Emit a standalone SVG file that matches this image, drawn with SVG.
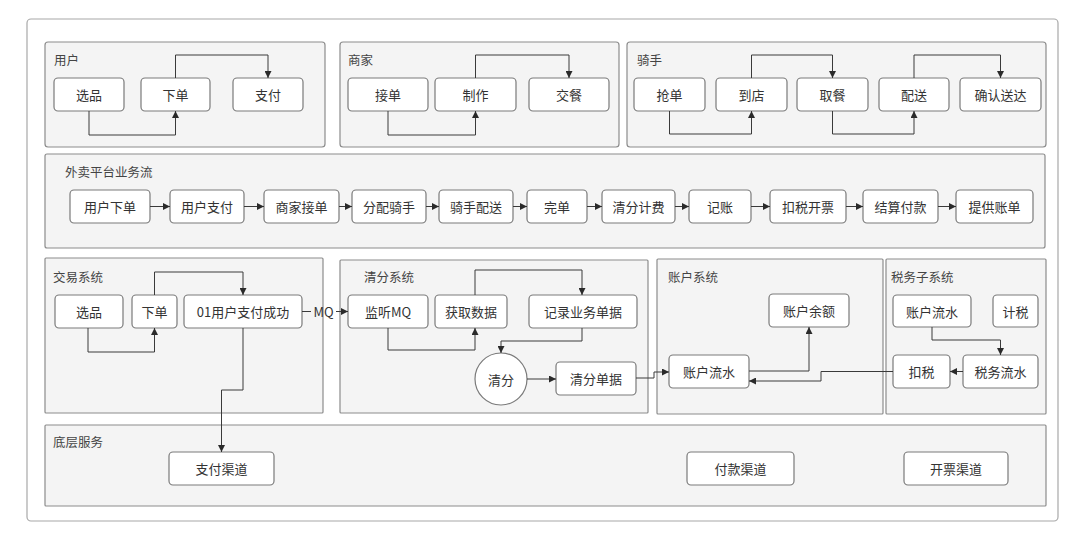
<svg xmlns="http://www.w3.org/2000/svg" width="1080" height="542" viewBox="0 0 1080 542">
<style>
.frame{fill:#fff;stroke:#a8a8a8;stroke-width:1.2}
.grp{fill:#f4f4f4;stroke:#8c8c8c;stroke-width:1.2}
.node{fill:#fff;stroke:#7a7a7a;stroke-width:1.2}
.t{font-family:"Noto Sans CJK SC","Noto Sans",sans-serif;font-size:13px;fill:#333;text-anchor:middle;dominant-baseline:central}
.lbl{font-family:"Noto Sans CJK SC","Noto Sans",sans-serif;font-size:12.5px;fill:#444;text-anchor:start;dominant-baseline:central}
.c{fill:none;stroke:#3a3a3a;stroke-width:1;marker-end:url(#arr)}
.cn{fill:none;stroke:#3a3a3a;stroke-width:1}
</style>
<defs>
<marker id="arr" viewBox="0 0 10 10" refX="10" refY="5" markerWidth="8" markerHeight="7" markerUnits="userSpaceOnUse" orient="auto">
<path d="M0,0 L10,5 L0,10 z" fill="#2a2a2a"/>
</marker>
</defs>
<rect class="frame" x="27" y="19" width="1031" height="502" rx="4"/>

<g id="g-user">
<rect class="grp" x="45" y="42" width="280" height="105" rx="3"/>
<text class="lbl" x="54" y="59">用户</text>
<g id="u-xuanpin"><rect class="node" x="54" y="78" width="70" height="33" rx="4"/><text class="t" x="89" y="94.5">选品</text></g>
<g id="u-xiadan"><rect class="node" x="141" y="78" width="69" height="33" rx="4"/><text class="t" x="175.5" y="94.5">下单</text></g>
<g id="u-zhifu"><rect class="node" x="233" y="78" width="70" height="33" rx="4"/><text class="t" x="268" y="94.5">支付</text></g>
</g>

<g id="g-merchant">
<rect class="grp" x="340" y="42" width="279" height="105" rx="3"/>
<text class="lbl" x="348" y="59">商家</text>
<g id="m-jiedan"><rect class="node" x="348" y="78" width="80" height="33" rx="4"/><text class="t" x="388" y="94.5">接单</text></g>
<g id="m-zhizuo"><rect class="node" x="435" y="78" width="81" height="33" rx="4"/><text class="t" x="475.5" y="94.5">制作</text></g>
<g id="m-jiaocan"><rect class="node" x="529" y="78" width="80" height="33" rx="4"/><text class="t" x="569" y="94.5">交餐</text></g>
</g>

<g id="g-rider">
<rect class="grp" x="627" y="42" width="419" height="105" rx="3"/>
<text class="lbl" x="637" y="59">骑手</text>
<g id="r-qiangdan"><rect class="node" x="634" y="78" width="71" height="33" rx="4"/><text class="t" x="669.5" y="94.5">抢单</text></g>
<g id="r-daodian"><rect class="node" x="716" y="78" width="71" height="33" rx="4"/><text class="t" x="751.5" y="94.5">到店</text></g>
<g id="r-qucan"><rect class="node" x="797" y="78" width="71" height="33" rx="4"/><text class="t" x="832.5" y="94.5">取餐</text></g>
<g id="r-peisong"><rect class="node" x="879" y="78" width="70" height="33" rx="4"/><text class="t" x="914" y="94.5">配送</text></g>
<g id="r-queren"><rect class="node" x="960" y="78" width="81" height="33" rx="4"/><text class="t" x="1000.5" y="94.5">确认送达</text></g>
</g>

<g id="g-platform">
<rect class="grp" x="45" y="154" width="1000" height="94" rx="2"/>
<text class="lbl" x="65" y="171">外卖平台业务流</text>
<g id="p1"><rect class="node" x="70" y="190" width="80" height="33" rx="4"/><text class="t" x="110" y="206.5">用户下单</text></g>
<g id="p2"><rect class="node" x="170" y="190" width="74" height="33" rx="4"/><text class="t" x="207" y="206.5">用户支付</text></g>
<g id="p3"><rect class="node" x="264" y="190" width="75" height="33" rx="4"/><text class="t" x="301.5" y="206.5">商家接单</text></g>
<g id="p4"><rect class="node" x="352" y="190" width="74" height="33" rx="4"/><text class="t" x="389" y="206.5">分配骑手</text></g>
<g id="p5"><rect class="node" x="439" y="190" width="74" height="33" rx="4"/><text class="t" x="476" y="206.5">骑手配送</text></g>
<g id="p6"><rect class="node" x="527" y="190" width="60" height="33" rx="4"/><text class="t" x="557" y="206.5">完单</text></g>
<g id="p7"><rect class="node" x="602" y="190" width="73" height="33" rx="4"/><text class="t" x="638.5" y="206.5">清分计费</text></g>
<g id="p8"><rect class="node" x="689" y="190" width="62" height="33" rx="4"/><text class="t" x="720" y="206.5">记账</text></g>
<g id="p9"><rect class="node" x="770" y="190" width="76" height="33" rx="4"/><text class="t" x="808" y="206.5">扣税开票</text></g>
<g id="p10"><rect class="node" x="863" y="190" width="75" height="33" rx="4"/><text class="t" x="900.5" y="206.5">结算付款</text></g>
<g id="p11"><rect class="node" x="956" y="190" width="77" height="33" rx="4"/><text class="t" x="994.5" y="206.5">提供账单</text></g>
</g>

<g id="g-trade">
<rect class="grp" x="45" y="258" width="278" height="155" rx="1"/>
<text class="lbl" x="53" y="276">交易系统</text>
<g id="t-xuanpin"><rect class="node" x="55" y="295" width="68" height="33" rx="4"/><text class="t" x="89" y="311.5">选品</text></g>
<g id="t-xiadan"><rect class="node" x="132" y="295" width="45" height="33" rx="4"/><text class="t" x="154.5" y="311.5">下单</text></g>
<g id="t-paid"><rect class="node" x="184" y="295" width="118" height="33" rx="4"/><text class="t" x="243" y="311.5">01用户支付成功</text></g>
</g>

<g id="g-clearing">
<rect class="grp" x="340" y="260" width="308" height="153" rx="1"/>
<text class="lbl" x="364" y="276">清分系统</text>
<g id="c-listen"><rect class="node" x="348" y="295" width="80" height="33" rx="4"/><text class="t" x="388" y="311.5">监听MQ</text></g>
<g id="c-fetch"><rect class="node" x="435" y="295" width="72" height="33" rx="4"/><text class="t" x="471" y="311.5">获取数据</text></g>
<g id="c-record"><rect class="node" x="529" y="295" width="108" height="33" rx="4"/><text class="t" x="583" y="311.5">记录业务单据</text></g>
<g id="c-clear"><circle class="node" cx="501" cy="379" r="26"/><text class="t" x="501" y="379">清分</text></g>
<g id="c-doc"><rect class="node" x="556" y="362" width="80" height="33" rx="4"/><text class="t" x="596" y="378.5">清分单据</text></g>
</g>

<g id="g-account">
<rect class="grp" x="657" y="259" width="226" height="155" rx="1"/>
<text class="lbl" x="668" y="276">账户系统</text>
<g id="a-balance"><rect class="node" x="769" y="294" width="80" height="33" rx="4"/><text class="t" x="809" y="310.5">账户余额</text></g>
<g id="a-flow"><rect class="node" x="669" y="355" width="80" height="33" rx="4"/><text class="t" x="709" y="371.5">账户流水</text></g>
</g>

<g id="g-tax">
<rect class="grp" x="886" y="259" width="160" height="155" rx="1"/>
<text class="lbl" x="891" y="276">税务子系统</text>
<g id="x-flow"><rect class="node" x="893" y="295" width="78" height="32" rx="4"/><text class="t" x="932" y="311">账户流水</text></g>
<g id="x-calc"><rect class="node" x="993" y="295" width="45" height="32" rx="4"/><text class="t" x="1015.5" y="311">计税</text></g>
<g id="x-deduct"><rect class="node" x="893" y="355" width="57" height="33" rx="4"/><text class="t" x="921.5" y="371.5">扣税</text></g>
<g id="x-taxflow"><rect class="node" x="963" y="355" width="75" height="33" rx="4"/><text class="t" x="1000.5" y="371.5">税务流水</text></g>
</g>

<g id="g-base">
<rect class="grp" x="45" y="425" width="1001" height="81" rx="1"/>
<text class="lbl" x="53" y="441">底层服务</text>
<g id="b-pay"><rect class="node" x="169" y="452" width="105" height="33" rx="4"/><text class="t" x="221.5" y="468.5">支付渠道</text></g>
<g id="b-payout"><rect class="node" x="687" y="452" width="107" height="33" rx="4"/><text class="t" x="740.5" y="468.5">付款渠道</text></g>
<g id="b-invoice"><rect class="node" x="904" y="452" width="104" height="33" rx="4"/><text class="t" x="956" y="468.5">开票渠道</text></g>
</g>

<g id="connectors">
<path class="c" d="M89,111 V135 H175.5 V111"/>
<path class="c" d="M175.5,78 V55 H268 V78"/>
<path class="c" d="M388,111 V135 H475.5 V111"/>
<path class="c" d="M475.5,78 V55 H569 V78"/>
<path class="c" d="M669.5,111 V134 H751.5 V111"/>
<path class="c" d="M751.5,78 V55 H832.5 V78"/>
<path class="c" d="M832.5,111 V134 H914 V111"/>
<path class="c" d="M914,78 V55 H1000.5 V78"/>
<path class="c" d="M150,206.5 H170"/>
<path class="c" d="M244,206.5 H264"/>
<path class="c" d="M339,206.5 H352"/>
<path class="c" d="M426,206.5 H439"/>
<path class="c" d="M513,206.5 H527"/>
<path class="c" d="M587,206.5 H602"/>
<path class="c" d="M675,206.5 H689"/>
<path class="c" d="M751,206.5 H770"/>
<path class="c" d="M846,206.5 H863"/>
<path class="c" d="M938,206.5 H956"/>
<path class="c" d="M88,328 V352 H154.5 V328"/>
<path class="c" d="M154.5,295 V272 H243 V295"/>
<path class="c" d="M243,328 V390 H221.5 V452"/>
<path class="cn" d="M302,311.5 H311"/>
<text class="t" x="323.5" y="311.5">MQ</text>
<path class="c" d="M336,311.5 H348"/>
<path class="c" d="M388,328 V350 H475 V328"/>
<path class="c" d="M475,295 V270 H582 V295"/>
<path class="c" d="M582,328 V341 H501 V353"/>
<path class="c" d="M527,379 H556"/>
<path class="c" d="M636,378 H654 V372 H669"/>
<path class="c" d="M749,371 H809 V327"/>
<path class="c" d="M893,371.5 H821 V381 H749"/>
<path class="c" d="M932,327 V340 H1000.5 V355"/>
<path class="c" d="M963,371.5 H950"/>
</g>
</svg>
